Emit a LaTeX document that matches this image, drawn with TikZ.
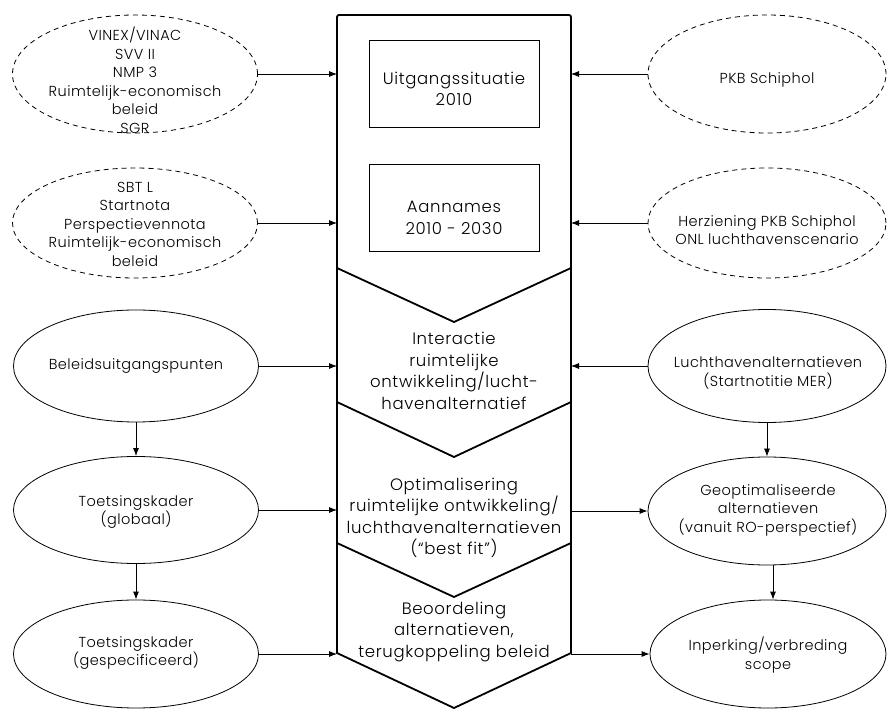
\documentclass[tikz,border=0pt]{standalone}
\usepackage{fontspec}
\setmainfont{Poppins Light}
\usetikzlibrary{shapes.geometric,arrows.meta}
\tikzset{
  dashell/.style={draw, ellipse, line width=0.8pt, dash pattern=on 5pt off 4pt, inner sep=0pt},
  solell/.style={draw, ellipse, line width=0.8pt, inner sep=0pt},
  etext/.style={align=center, font=\fontsize{14.5}{18.5}\selectfont\addfontfeature{LetterSpace=3}, inner sep=0pt},
  ctext/.style={align=center, font=\fontsize{16.5}{21.5}\selectfont\addfontfeature{LetterSpace=4}, inner sep=0pt},
  cbox/.style={draw, line width=0.8pt, minimum width=170pt, minimum height=87pt, inner sep=0pt},
  arr/.style={line width=0.8pt, -{Latex[length=8pt,width=6pt]}},
  colline/.style={line width=1.8pt, line join=miter}
}
\begin{document}
\begin{tikzpicture}[x=1pt,y=-1pt]
\useasboundingbox[fill=white] (0,0) rectangle (887,711);
% column
\draw[colline, rounded corners=2pt] (337,268) -- (337,15) -- (571,15) -- (571,268);
\draw[colline] (337,268) -- (337,653) -- (454,708) -- (571,653) -- (571,268);
\draw[colline] (337,268) -- (454,322) -- (571,268);
\draw[colline] (337,402) -- (454,457) -- (571,402);
\draw[colline] (337,543) -- (454,597) -- (571,543);
\coordinate (colL) at (337,0);
\coordinate (colR) at (571,0);
% inner boxes
\node[cbox] (b1) at (454,83.5) {};
\node[ctext] (b1t) at (454,89) {Uitgangssituatie\\2010};
\node[cbox] (b2) at (454,207.5) {};
\node[ctext] (b2t) at (454,218) {Aannames\\2010 - 2030};
% chevron texts
\node[ctext] (c1) at (454,371) {Interactie\\ruimtelijke\\ontwikkeling/lucht-\\havenalternatief};
\node[ctext] (c2) at (454,518) {Optimalisering\\ruimtelijke ontwikkeling/\\luchthavenalternatieven\\(“best fit”)};
\node[ctext] (c3) at (454,632) {Beoordeling\\alternatieven,\\terugkoppeling beleid};
% left dashed
\node[dashell, minimum width=245pt, minimum height=118pt] (e1) at (135,74) {};
\node[etext] (e1t) at (135,80) {VINEX/VINAC\\SVV II\\NMP 3\\Ruimtelijk-economisch\\beleid\\SGR};
\node[dashell, minimum width=245pt, minimum height=110pt] (e2) at (135,223) {};
\node[etext] (e2t) at (135,224) {SBT L\\Startnota\\Perspectievennota\\Ruimtelijk-economisch\\beleid};
% right dashed
\node[dashell, minimum width=238pt, minimum height=118pt] (e3) at (767,74) {};
\node[etext] (e3t) at (767,80) {PKB Schiphol};
\node[dashell, minimum width=238pt, minimum height=110pt] (e4) at (767,223) {};
\node[etext] (e4t) at (767,230) {Herziening PKB Schiphol\\ONL luchthavenscenario};
% left solid
\node[solell, minimum width=245pt, minimum height=112pt] (l1) at (136,366) {};
\node[etext] (l1t) at (136,366) {Beleidsuitgangspunten};
\node[solell, minimum width=245pt, minimum height=107pt] (l2) at (136,510) {};
\node[etext] (l2t) at (136,512) {Toetsingskader\\(globaal)};
\node[solell, minimum width=245pt, minimum height=108pt] (l3) at (136,654) {};
\node[etext] (l3t) at (136,653) {Toetsingskader\\(gespecificeerd)};
% right solid
\node[solell, minimum width=238pt, minimum height=113pt] (r1) at (767,366) {};
\node[etext] (r1t) at (768,373) {Luchthavenalternatieven\\(Startnotitie MER)};
\node[solell, minimum width=238pt, minimum height=108pt] (r2) at (767,511) {};
\node[etext] (r2t) at (768,510) {Geoptimaliseerde\\alternatieven\\(vanuit RO-perspectief)};
\node[solell, minimum width=236pt, minimum height=108pt] (r3) at (768,654) {};
\node[etext] (r3t) at (768,655) {Inperking/verbreding\\scope};
% arrows into column
\draw[arr] (e1.east) -- (e1.east -| colL);
\draw[arr] (e2.east) -- (e2.east -| colL);
\draw[arr] (l1.east) -- (l1.east -| colL);
\draw[arr] (l2.east) -- (l2.east -| colL);
\draw[arr] (l3.east) -- (l3.east -| colL);
\draw[arr] (e3.west) -- (e3.west -| colR);
\draw[arr] (e4.west) -- (e4.west -| colR);
\draw[arr] (r1.west) -- (r1.west -| colR);
% arrows out of column
\draw[arr] (r2.west -| colR) -- (r2.west);
\draw[arr] (r3.west -| colR) -- (r3.west);
% vertical arrows
\draw[arr] (l1.south) -- (l2.north);
\draw[arr] (l2.south) -- (l3.north);
\draw[arr] (r1.south) -- (r1.south |- r2.north);
\draw[arr] (773,565) -- (r3.north -| 773,0);
\end{tikzpicture}
\end{document}
